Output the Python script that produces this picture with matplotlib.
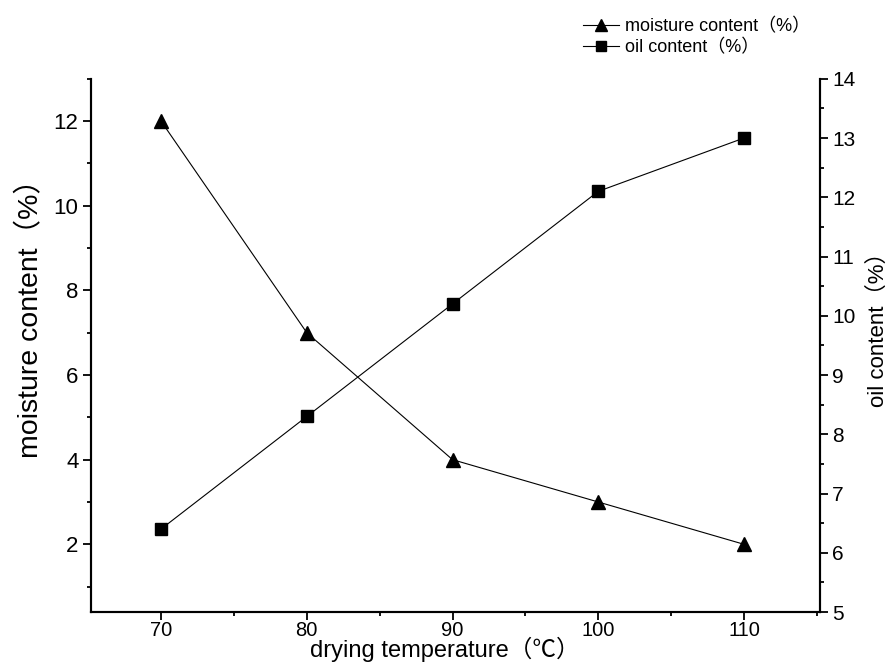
import matplotlib
matplotlib.use('Agg')
import matplotlib.pyplot as plt
from matplotlib.ticker import MultipleLocator
from matplotlib.lines import Line2D

plt.rcParams['font.family'] = ['Liberation Sans', 'Noto Sans CJK SC', 'DejaVu Sans']

temperature = [70, 80, 90, 100, 110]
moisture = [12, 7, 4, 3, 2]
oil = [6.4, 8.3, 10.2, 12.1, 13.0]

fig = plt.figure(figsize=(8.93, 6.62), dpi=100)
ax = fig.add_axes([0.102, 0.0755, 0.816, 0.8055])
ax2 = ax.twinx()

ax.plot(temperature, moisture, color='black', lw=0.8, marker='^', ms=9.5)
ax2.plot(temperature, oil, color='black', lw=0.8, marker='s', ms=8)

ax.set_xlim(65.2, 115.2)
ax.set_ylim(0.4, 13)
ax2.set_ylim(5, 14)

ax.xaxis.set_major_locator(MultipleLocator(10))
ax.xaxis.set_minor_locator(MultipleLocator(5))
ax.yaxis.set_major_locator(MultipleLocator(2))
ax.yaxis.set_minor_locator(MultipleLocator(1))
ax2.yaxis.set_major_locator(MultipleLocator(1))
ax2.yaxis.set_minor_locator(MultipleLocator(0.5))

for a in (ax, ax2):
    a.spines['top'].set_visible(False)
    for s in a.spines.values():
        s.set_linewidth(1.5)
    a.tick_params(which='major', direction='out', length=6, width=1.3, labelsize=16, pad=3)
    a.tick_params(which='minor', direction='out', length=3, width=1.3)
ax.tick_params(axis='x', which='major', labelsize=14.5, pad=0.5)
ax2.tick_params(which='major', labelsize=15)

ax.set_xlabel('drying temperature（℃）', fontsize=17, va='center')
ax.xaxis.set_label_coords(0.485, -0.0705)
ax.set_ylabel('moisture content（%）', fontsize=20.5, va='center')
ax.yaxis.set_label_coords(-0.083, 0.563)
ax2.set_ylabel('oil content（%）', fontsize=16, va='center', rotation=90)
ax2.yaxis.set_label_coords(1.08, 0.54)

handles = [
    Line2D([], [], color='black', lw=0.8, marker='^', ms=8),
    Line2D([], [], color='black', lw=0.8, marker='s', ms=7),
]
fig.legend(handles, ['moisture content（%）', 'oil content（%）'],
           loc='upper left', bbox_to_anchor=(0.653, 0.972), frameon=False,
           borderpad=0, borderaxespad=0,
           fontsize=13, handlelength=2.0, handletextpad=0.3, labelspacing=0.2)

fig.savefig('out.png', dpi=100)
